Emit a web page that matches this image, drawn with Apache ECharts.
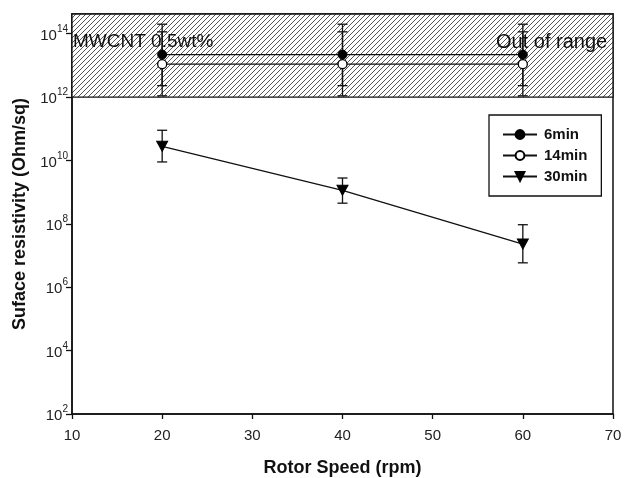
<!DOCTYPE html>
<html>
<head>
<meta charset="utf-8">
<script src="https://cdn.jsdelivr.net/npm/echarts@6/dist/echarts.min.js"></script>
<style>
html,body{margin:0;padding:0;background:#fff;}
#c{width:634px;height:478px;}
</style>
</head>
<body>
<div id="c"></div>
<script>
// ---- data ----
var rotorSpeed = [20, 40, 60];
var seriesNames = ['6min', '14min', '30min'];
var res6 = [2.2e13, 2.2e13, 2.2e13];
var res6Low = [1.1e12, 1.1e12, 1.1e12];
var res6High = [2.0e14, 2.0e14, 2.0e14];
var res14 = [1.1e13, 1.1e13, 1.1e13];
var res14Low = [2.3e12, 2.3e12, 2.3e12];
var res14High = [1.15e14, 1.15e14, 1.15e14];
var res30 = [2.8e10, 1.15e9, 2.3e7];
var res30Low = [9.0e9, 4.5e8, 5.9e6];
var res30High = [9.0e10, 2.8e9, 9.4e7];
var xTicks = [10, 20, 30, 40, 50, 60, 70];
var yTickExponents = [2, 4, 6, 8, 10, 12, 14];
var yTickValues = yTickExponents.map(function (e) { return Math.pow(10, e); });
var outOfRangeLimit = 1e12;
var yMin = 1e2;
var yMax = 4.2e14;
var xMin = 10, xMax = 70;

// ---- hatch pattern ----
function makeHatch() {
  var s = 5;
  var cv = document.createElement('canvas');
  cv.width = s; cv.height = s;
  var ctx = cv.getContext('2d');
  ctx.fillStyle = '#ffffff';
  ctx.fillRect(0, 0, s, s);
  ctx.strokeStyle = '#555';
  ctx.lineWidth = 1;
  ctx.beginPath();
  ctx.moveTo(-1, s + 1); ctx.lineTo(s + 1, -1);
  ctx.moveTo(-1, 1); ctx.lineTo(1, -1);
  ctx.moveTo(s - 1, s + 1); ctx.lineTo(s + 1, s - 1);
  ctx.stroke();
  return cv;
}

function zip(xs, ys) { return xs.map(function (x, i) { return [x, ys[i]]; }); }
function errData(xs, lo, hi) { return xs.map(function (x, i) { return [x, lo[i], hi[i]]; }); }

function errRender(params, api) {
  var x = api.value(0);
  var lo = api.coord([x, api.value(1)]);
  var hi = api.coord([x, api.value(2)]);
  var w = 5;
  var st = { stroke: '#111', lineWidth: 1.3 };
  return {
    type: 'group',
    children: [
      { type: 'line', shape: { x1: lo[0], y1: lo[1], x2: hi[0], y2: hi[1] }, style: st },
      { type: 'line', shape: { x1: lo[0] - w, y1: lo[1], x2: lo[0] + w, y2: lo[1] }, style: st },
      { type: 'line', shape: { x1: hi[0] - w, y1: hi[1], x2: hi[0] + w, y2: hi[1] }, style: st }
    ]
  };
}

var font = 'Liberation Sans, Arial, sans-serif';
var chart = echarts.init(document.getElementById('c'), null, { renderer: 'canvas' });

var lineStyle = { color: '#111', width: 1.3 };

chart.setOption({
  animation: false,
  backgroundColor: '#fff',
  grid: { left: 72, right: 21, top: 14, bottom: 64, show: true, borderColor: '#111', borderWidth: 1.5, backgroundColor: 'transparent', outerBoundsMode: 'none', containLabel: false },
  legend: {
    data: seriesNames,
    orient: 'vertical',
    left: 489, top: 115,
    padding: [12, 14, 12, 13],
    itemGap: 6,
    itemWidth: 34,
    itemHeight: 11,
    borderColor: '#111',
    borderWidth: 1.3,
    backgroundColor: '#fff',
    textStyle: { fontFamily: font, fontWeight: 'bold', fontSize: 15, color: '#111', padding: [0, 0, 0, 2] }
  },
  xAxis: {
    type: 'value', min: xMin, max: xMax, interval: 10,
    name: 'Rotor Speed (rpm)', nameLocation: 'middle', nameGap: 45,
    nameTextStyle: { fontFamily: font, fontWeight: 'bold', fontSize: 18, color: '#111' },
    axisLine: { lineStyle: { color: '#111', width: 1.5 } },
    axisTick: { show: true, length: 5, inside: false, lineStyle: { color: '#111', width: 1.3 } },
    axisLabel: { fontFamily: font, fontSize: 15, color: '#222', margin: 14 },
    splitLine: { show: false }
  },
  yAxis: {
    type: 'log', logBase: 10, min: yMin, max: yMax,
    name: 'Suface resistivity (Ohm/sq)', nameLocation: 'middle', nameGap: 43,
    nameTextStyle: { fontFamily: font, fontWeight: 'bold', fontSize: 18, color: '#111' },
    axisLine: { show: true, lineStyle: { color: '#111', width: 1.5 } },
    axisTick: { show: true, length: 6, customValues: yTickValues, lineStyle: { color: '#111', width: 1.3 } },
    axisLabel: {
      margin: 4,
      customValues: yTickValues,
      formatter: function (v) {
        var e = Math.round(Math.log10(v));
        return '{b|10}{s|' + e + '}';
      },
      rich: {
        b: { fontFamily: font, fontSize: 15, color: '#222', verticalAlign: 'bottom', lineHeight: 19 },
        s: { fontFamily: font, fontSize: 10, color: '#222', verticalAlign: 'top', lineHeight: 19 }
      }
    },
    splitLine: { show: false }
  },
  graphic: [
    { type: 'text', left: 73, top: 32, z: 100, style: { text: 'MWCNT 0.5wt%', font: '19px ' + font, fill: '#111' } },
    { type: 'text', left: 496, top: 32, z: 100, style: { text: 'Out of range', font: '20px ' + font, fill: '#111' } }
  ],
  series: [
    {
      name: '6min', type: 'line', data: zip(rotorSpeed, res6), z: 5,
      symbol: 'circle', symbolSize: 9,
      itemStyle: { color: '#000', borderColor: '#000', borderWidth: 1 },
      lineStyle: lineStyle,
      markArea: {
        silent: true,
        itemStyle: { color: { image: makeHatch(), repeat: 'repeat' }, borderColor: '#111', borderWidth: 1.3 },
        data: [[{ xAxis: xMin, yAxis: outOfRangeLimit }, { xAxis: xMax, yAxis: yMax }]]
      }
    },
    {
      name: '14min', type: 'line', data: zip(rotorSpeed, res14), z: 5,
      symbol: 'circle', symbolSize: 9,
      itemStyle: { color: '#fff', borderColor: '#000', borderWidth: 1.3 },
      lineStyle: lineStyle
    },
    {
      name: '30min', type: 'line', data: zip(rotorSpeed, res30), z: 5,
      symbol: 'triangle', symbolSize: [11, 10], symbolRotate: 180,
      itemStyle: { color: '#000', borderColor: '#000', borderWidth: 1 },
      lineStyle: lineStyle
    },
    { name: '6min-err', type: 'custom', renderItem: errRender, data: errData(rotorSpeed, res6Low, res6High), encode: { x: 0, y: [1, 2] }, z: 4 },
    { name: '14min-err', type: 'custom', renderItem: errRender, data: errData(rotorSpeed, res14Low, res14High), encode: { x: 0, y: [1, 2] }, z: 4 },
    { name: '30min-err', type: 'custom', renderItem: errRender, data: errData(rotorSpeed, res30Low, res30High), encode: { x: 0, y: [1, 2] }, z: 4 }
  ]
});
</script>
</body>
</html>
